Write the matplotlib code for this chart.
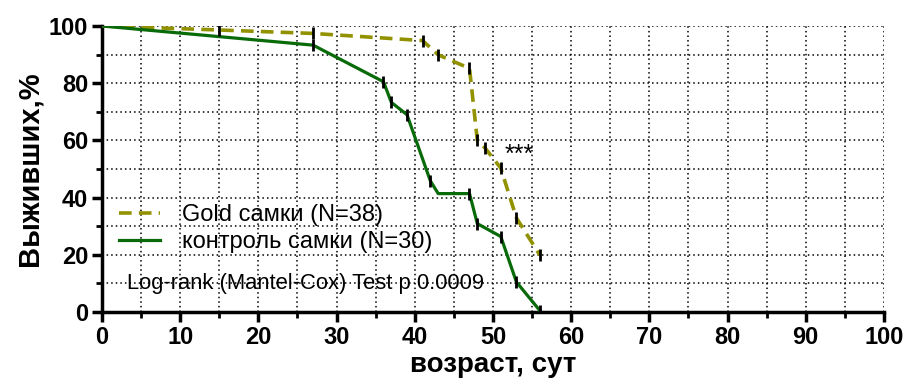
import matplotlib
matplotlib.use("Agg")
import matplotlib.pyplot as plt
from matplotlib.ticker import MultipleLocator

plt.rcParams['font.family'] = ['Liberation Sans', 'DejaVu Sans']

# --- Data ---
gold_days = [0, 15, 27, 41, 43, 47, 48, 49, 51, 53, 56]
gold_surv = [100, 98.6, 97.4, 94.9, 89.9, 85.2, 60.0, 57.3, 50.3, 32.9, 19.9]

ctrl_days = [0, 27, 36, 37, 39, 42, 43, 47, 48, 51, 53, 56]
ctrl_surv = [100, 93.3, 80.5, 73.3, 69.0, 45.8, 41.4, 41.4, 30.9, 26.4, 10.5, 0.5]

gold_label = "Gold самки (N=38)"
ctrl_label = "контроль самки (N=30)"
test_text = "Log-rank (Mantel-Cox) Test p 0.0009"

gold_color = '#929200'
ctrl_color = '#086a08'

fig = plt.figure(figsize=(9.07, 3.92), dpi=100)
ax = fig.add_axes([0.1125, 0.204, 0.862, 0.7297])

# --- Curves ---
ax.plot(gold_days, gold_surv, color=gold_color, linestyle=(0, (3.5, 2)), linewidth=2.6,
        label=gold_label, zorder=3)
ax.plot(ctrl_days, ctrl_surv, color=ctrl_color, linestyle='-', linewidth=2.3,
        label=ctrl_label, zorder=3)

# censor / event marks
ax.plot(gold_days[1:], gold_surv[1:], linestyle='none', marker='|', markersize=8,
        markeredgewidth=2, color='black', zorder=4)
ctrl_marks = [i for i in range(1, len(ctrl_days)) if ctrl_days[i] != 43]
ax.plot([ctrl_days[i] for i in ctrl_marks], [ctrl_surv[i] for i in ctrl_marks],
        linestyle='none', marker='|', markersize=8, markeredgewidth=2,
        color='black', zorder=4)

# --- Axes ---
ax.set_xlim(0, 100)
ax.set_ylim(0, 100)
ax.xaxis.set_major_locator(MultipleLocator(10))
ax.xaxis.set_minor_locator(MultipleLocator(5))
ax.yaxis.set_major_locator(MultipleLocator(20))
ax.yaxis.set_minor_locator(MultipleLocator(10))

ax.grid(True, which='both', linestyle=(0, (1, 2)), color='black', linewidth=1.1)
ax.set_axisbelow(True)

for side in ['top', 'right']:
    ax.spines[side].set_visible(False)
for side in ['left', 'bottom']:
    ax.spines[side].set_linewidth(2.5)
    ax.spines[side].set_clip_on(False)

ax.tick_params(which='major', direction='out', length=7, width=2.5, labelsize=17, pad=3)
ax.tick_params(which='minor', direction='out', length=4, width=2)
for lbl in ax.get_xticklabels() + ax.get_yticklabels():
    lbl.set_fontweight('bold')

ax.set_xlabel("возраст, сут", fontsize=20, fontweight='bold', va='center')
ax.xaxis.set_label_coords(0.5, -0.185)
ax.set_ylabel("Выживших,%", fontsize=21, fontweight='bold', labelpad=4)

# --- Legend ---
leg = ax.legend(loc='upper left', bbox_to_anchor=(0.0, 0.435), frameon=False,
                fontsize=17, handlelength=1.75, handletextpad=0.95, labelspacing=0.2,
                borderaxespad=0.3)

ax.text(0.032, 0.1, test_text, transform=ax.transAxes, fontsize=15.8,
        ha='left', va='center')
ax.text(51.5, 55, "***", fontsize=18, ha='left', va='center')

fig.savefig("out.png", dpi=100)
